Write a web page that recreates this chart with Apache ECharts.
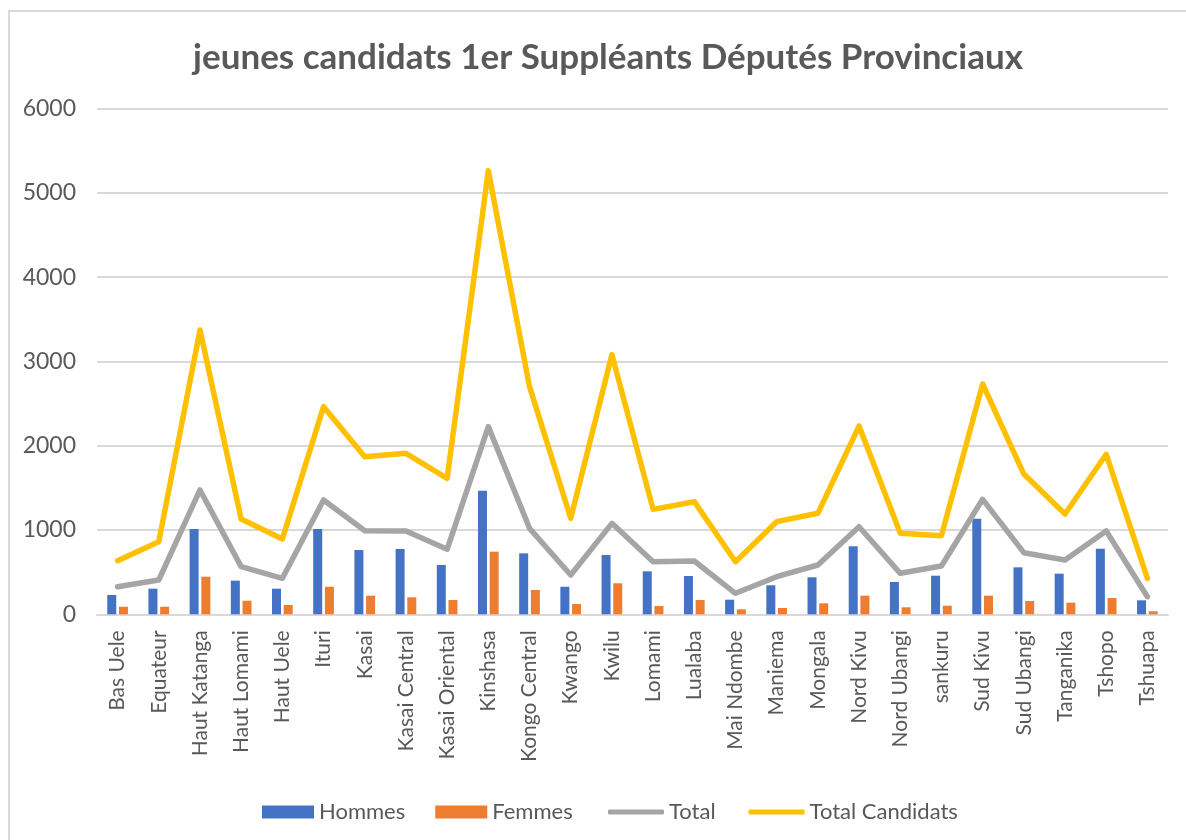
<!DOCTYPE html>
<html>
<head>
<meta charset="utf-8">
<script src="https://cdn.jsdelivr.net/npm/echarts@6/dist/echarts.min.js"></script>
<style>
  html, body { margin: 0; padding: 0; background: #ffffff; }
  #frame { position: absolute; left: 8px; top: 10px; width: 1300px; height: 1000px; border-left: 2px solid #d9d9d9; border-top: 2px solid #d9d9d9; box-sizing: border-box; }
  #chart { position: absolute; left: 0; top: 0; width: 1186px; height: 840px; }
</style>
</head>
<body>
<div id="frame"></div>
<div id="chart"></div>
<script>
const categories = ['Bas Uele','Equateur','Haut Katanga','Haut Lomami','Haut Uele','Ituri','Kasai','Kasai Central','Kasai Oriental','Kinshasa','Kongo Central','Kwango','Kwilu','Lomami','Lualaba','Mai Ndombe','Maniema','Mongala','Nord Kivu','Nord Ubangi','sankuru','Sud Kivu','Sud Ubangi','Tanganika','Tshopo','Tshuapa'];
const hommes = [229,304,1012,399,304,1012,763,775,585,1466,723,327,703,510,454,173,344,439,807,383,458,1134,557,482,778,166];
const femmes = [90,90,446,161,110,327,221,201,170,743,288,122,368,98,170,59,75,130,221,83,102,221,158,138,193,36];
const total = [327,407,1475,565,427,1356,992,988,771,2226,1020,466,1079,624,632,249,446,585,1039,486,573,1364,731,644,988,209];
const totalCandidats = [636,861,3373,1130,893,2463,1870,1910,1613,5262,2700,1139,3080,1245,1336,624,1099,1198,2234,961,933,2732,1664,1190,1898,427];
const yTicks = [0,1000,2000,3000,4000,5000,6000];

const FONT = 'Lato';
const legendText = { fontFamily: FONT, fontSize: 22, color: '#595959' };
const chart = echarts.init(document.getElementById('chart'), null, {renderer: 'canvas'});
chart.setOption({
  animation: false,
  backgroundColor: 'transparent',
  title: {
    text: 'jeunes candidats 1er Suppléants Députés Provinciaux',
    left: 603,
    textAlign: 'center',
    top: 35,
    textStyle: { fontFamily: FONT, fontWeight: 'bold', fontSize: 35, color: '#595959' }
  },
  legend: [
    {
      left: 257,
      top: 796,
      itemWidth: 52,
      itemHeight: 13,
      itemGap: 30,
      textStyle: legendText,
      data: [ { name: 'Hommes', icon: 'rect' }, { name: 'Femmes', icon: 'rect' } ]
    },
    {
      left: 603,
      top: 796,
      itemWidth: 56,
      itemHeight: 5,
      itemGap: 33,
      textStyle: legendText,
      data: [ { name: 'Total', icon: 'roundRect' }, { name: 'Total Candidats', icon: 'roundRect' } ]
    }
  ],
  grid: { left: 97, right: 18, top: 108.5, bottom: 225.7, containLabel: false },
  xAxis: {
    type: 'category',
    data: categories,
    axisLine: { lineStyle: { color: '#d9d9d9', width: 2 } },
    axisTick: { show: false },
    axisLabel: { rotate: 90, interval: 0, margin: 16, fontFamily: FONT, fontSize: 21, color: '#595959' }
  },
  yAxis: {
    type: 'value',
    min: yTicks[0],
    max: yTicks[yTicks.length - 1],
    interval: 1000,
    axisLine: { show: false },
    axisTick: { show: false },
    splitLine: { lineStyle: { color: '#d9d9d9', width: 2 } },
    axisLabel: { margin: 21, fontFamily: FONT, fontSize: 23, color: '#595959', formatter: function (v) { return String(v); } }
  },
  series: [
    { name: 'Hommes', type: 'bar', data: hommes, barWidth: 9, barGap: '30%', itemStyle: { color: '#4472c4' } },
    { name: 'Femmes', type: 'bar', data: femmes, barWidth: 9, itemStyle: { color: '#ed7d31' } },
    { name: 'Total', type: 'line', data: total, symbol: 'none', lineStyle: { color: '#a5a5a5', width: 5.5, cap: 'round', join: 'round' }, itemStyle: { color: '#a5a5a5' } },
    { name: 'Total Candidats', type: 'line', data: totalCandidats, symbol: 'none', lineStyle: { color: '#ffc000', width: 5.5, cap: 'round', join: 'round' }, itemStyle: { color: '#ffc000' } }
  ]
});
</script>
</body>
</html>
